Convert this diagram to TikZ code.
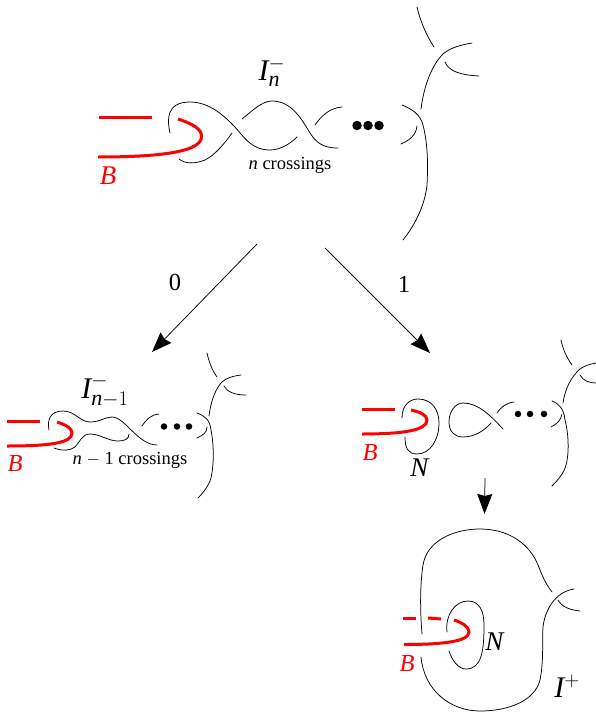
\documentclass[tikz,border=0pt]{standalone}
\usepackage{amsmath}
\usepackage{fontspec}
\setmainfont{Liberation Serif}
\usetikzlibrary{arrows.meta}
\DeclareMathSizes{30}{30}{22}{15}

\tikzset{
	strand/.style={line width=0.75pt, line cap=round},
	band/.style={line width=3pt, red},
	bigarrow/.style={line width=0.75pt, -{Stealth[length=20pt,width=15pt,inset=2pt]}},
	knotdot/.style={circle, fill=black, inner sep=0pt, minimum size=#1},
	biglabel/.style={inner sep=0pt, font=\fontsize{30}{32}\selectfont},
	toplabel/.style={inner sep=0pt, font=\fontsize{27}{30}\selectfont},
	midlabel/.style={inner sep=0pt, font=\fontsize{24.5}{28}\selectfont},
	smalllabel/.style={inner sep=0pt, font=\fontsize{18.5}{22}\selectfont}
}

\begin{document}
\begin{tikzpicture}[x=1pt, y=-1pt]

	\useasboundingbox (0,0) rectangle (596,712);

	% Top: I_n^-
	\draw[band] (99,117) -- (152,117);
	\draw[band] (178,119) .. controls (193,124) and (202,129) .. (201.5,137) .. controls (201,150) and (170,157) .. (98,157);

	\draw[strand] (170,133) .. controls (167,120) and (166,102) .. (190,102) .. controls (210,102) and (225,117) .. (233,125) .. controls (243,135) and (250,150) .. (270,150) .. controls (280,150) and (290,144) .. (297,137);
	\draw[strand] (179,159) .. controls (185,164) and (195,164) .. (205,160) .. controls (215,155) and (225,143) .. (232,133);
	\draw[strand] (242,119) .. controls (252,111) and (262,101) .. (272,101) .. controls (292,101) and (302,120) .. (310,133) .. controls (316,142) and (322,148) .. (338,148);
	\draw[strand] (315,125) .. controls (322,115) and (330,108) .. (342,107);

	\foreach \px in {357,368,379}
		\node[knotdot=9.5pt] (dotA\px) at (\px,125.5) {};

	\draw[strand] (402,105) .. controls (412,109) and (420,114) .. (423,125) .. controls (428,145) and (428,165) .. (427,185) .. controls (425,205) and (415,225) .. (403,240);
	\draw[strand] (401,144) .. controls (410,140) and (416,135) .. (417,126);
	\draw[strand] (421,109) .. controls (424,85) and (432,65) .. (443,54) .. controls (450,48) and (460,45) .. (472,43);
	\draw[strand] (417,7) .. controls (420,20) and (426,35) .. (434,47);
	\draw[strand] (445,62) .. controls (449,72) and (462,75) .. (479,76);

	\node[biglabel] (labelA) at (272,72) {$\textit{I}^{-}_{\textit{n}}$};
	\node[smalllabel] (crossA) at (290,165) {\textit{n} crossings};
	\node[toplabel, red] (bandA) at (108,176) {\textit{B}};

	% Arrows
	\coordinate (fromA0) at (257,244);
	\coordinate (toA0) at (152,352);
	\coordinate (fromA1) at (325,248);
	\coordinate (toA1) at (430,353);
	\coordinate (fromB) at (485,478);
	\coordinate (toB) at (484.5,514);

	\draw[bigarrow] (fromA0) -- (toA0);
	\draw[bigarrow] (fromA1) -- (toA1);
	\draw[bigarrow] (fromB) -- (toB);

	\node[midlabel] (zero) at (175,282) {0};
	\node[midlabel] (one) at (404,284) {1};

	% Left: I_{n-1}^-
	\draw[band] (7,421) -- (40,421);
	\draw[band] (57,422) .. controls (66,425) and (72,428) .. (72,433) .. controls (72,443) and (50,446) .. (7,446);

	\draw[strand] (49,430) .. controls (47,420) and (50,411) .. (63,411) .. controls (75,411) and (80,422) .. (90,422) .. controls (100,422) and (105,417) .. (112,417) .. controls (125,417) and (138,445) .. (157,445);
	\draw[strand] (54,448) .. controls (62,451) and (70,451) .. (75,447) .. controls (80,442) and (82,434) .. (90,434) .. controls (100,434) and (108,441) .. (118,441) .. controls (125,441) and (129,439) .. (129,434);
	\draw[strand] (142,426) .. controls (146,420) and (150,415) .. (159,414);

	\foreach \px in {164,177,189}
		\node[knotdot=6.5pt] (dotB\px) at (\px,426.5) {};

	\draw[strand] (197,413) .. controls (205,416) and (210,420) .. (211,430) .. controls (214,445) and (214,465) .. (211,478) .. controls (209,485) and (204,492) .. (198,498);
	\draw[strand] (197,438) .. controls (203,435) and (207,433) .. (207,427);
	\draw[strand] (209,416) .. controls (211,400) and (216,388) .. (222,382) .. controls (226,378) and (233,376) .. (241,375);
	\draw[strand] (207,353) .. controls (209,362) and (212,370) .. (217,377);
	\draw[strand] (224,386) .. controls (227,392) and (235,395) .. (246,395);

	\node[biglabel] (labelB) at (105,391) {$\textit{I}^{-}_{\textit{n}-1}$};
	\node[smalllabel] (crossB) at (130,460) {\textit{n} $-$ 1 crossings};
	\node[midlabel, red] (bandB) at (15,464) {\textit{B}};

	% Right: after the 1 resolution
	\draw[band] (362,409) -- (395,409);
	\draw[band] (411,410) .. controls (420,412) and (427,415) .. (427,420) .. controls (427,430) and (405,434) .. (362,434);

	\draw[strand] (402,418) .. controls (402,405) and (410,399) .. (418,399) .. controls (432,399) and (439,410) .. (439,423) .. controls (439,440) and (430,454) .. (417,454) .. controls (408,454) and (405,448) .. (405,437);
	\draw[strand] (503,429) .. controls (490,415) and (478,403) .. (463,403) .. controls (455,403) and (449,412) .. (449,422) .. controls (449,432) and (455,437) .. (463,437) .. controls (475,437) and (485,430) .. (491,423);
	\draw[strand] (497,413) .. controls (501,407) and (506,403) .. (514,402);

	\foreach \px in {518,530,544}
		\node[knotdot=6.5pt] (dotC\px) at (\px,414) {};

	\draw[strand] (552,401) .. controls (560,404) and (564,410) .. (565,420) .. controls (569,435) and (569,455) .. (566,465) .. controls (564,473) and (558,480) .. (552,486);
	\draw[strand] (551,427) .. controls (557,424) and (561,420) .. (562,414);
	\draw[strand] (563,403) .. controls (565,388) and (572,376) .. (580,369) .. controls (584,366) and (590,364) .. (596,363);
	\draw[strand] (561,340) .. controls (563,350) and (567,358) .. (572,365);
	\draw[strand] (580,375) .. controls (583,381) and (590,383) .. (596,383);

	\node[toplabel] (knotC) at (420,468) {\textit{N}};
	\node[midlabel, red] (bandC) at (370,453) {\textit{B}};

	% Bottom: I^+
	\draw[band] (403,618) -- (416,618);
	\draw[band] (428,618) -- (441,619);
	\draw[band] (454,620) .. controls (463,623) and (469,627) .. (469,632) .. controls (469,642) and (440,644.5) .. (404,644.5);

	\draw[strand] (422,634) .. controls (420,610) and (420,585) .. (423,565) .. controls (427,540) and (455,529) .. (480,529) .. controls (510,529) and (530,545) .. (538,565) .. controls (542,575) and (545,583) .. (552,592);
	\draw[strand] (421,657) .. controls (424,690) and (450,711) .. (480,711) .. controls (510,711) and (535,700) .. (540,680) .. controls (544,660) and (542,640) .. (543,627) .. controls (545,610) and (555,592) .. (574,589);
	\draw[strand] (558,600) .. controls (562,607) and (570,610) .. (580,611);
	\draw[strand] (447,632) .. controls (445,615) and (455,601) .. (468,601) .. controls (480,601) and (484,612) .. (484,625) .. controls (484,650) and (482,669) .. (466,669) .. controls (458,669) and (452,660) .. (449,651);

	\node[toplabel] (knotD) at (495,642) {\textit{N}};
	\node[midlabel, red] (bandD) at (407,664) {\textit{B}};
	\node[biglabel] (labelD) at (567,686) {$\textit{I}^{+}$};

\end{tikzpicture}
\end{document}
